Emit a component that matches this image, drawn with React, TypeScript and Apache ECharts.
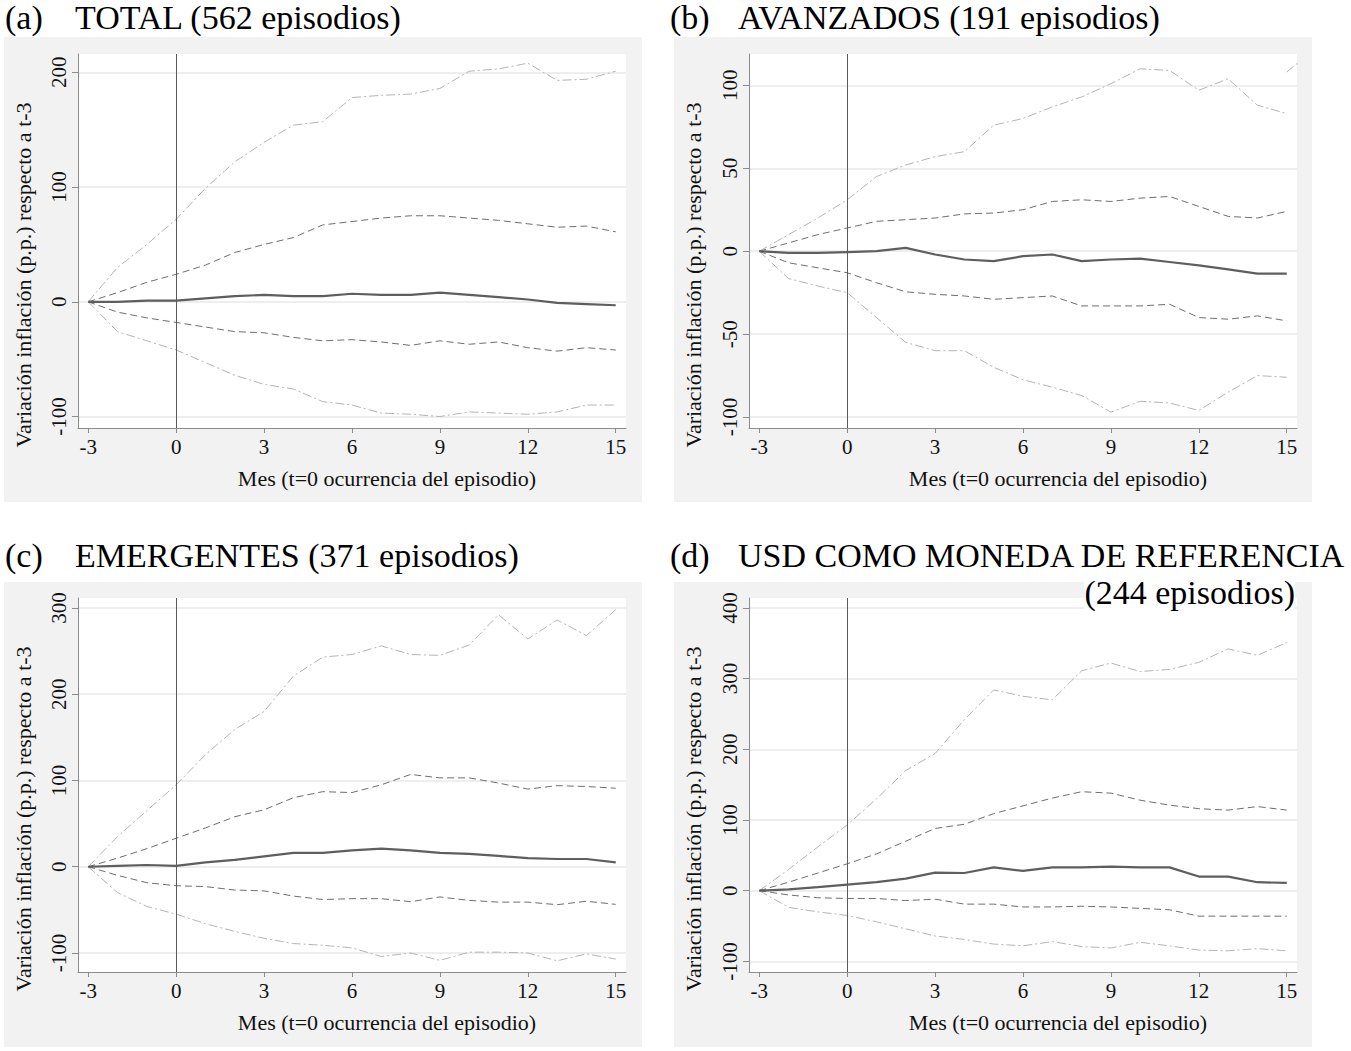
import React, { useEffect, useRef } from "react";
import * as echarts from "echarts";

// ---------- data ----------
const months = [-3, -2, -1, 0, 1, 2, 3, 4, 5, 6, 7, 8, 9, 10, 11, 12, 13, 14, 15];
const xTicks = [-3, 0, 3, 6, 9, 12, 15];

// (a) TOTAL
const totalOuterUp = [0, 30, 50, 72, 99, 122, 139, 154, 157, 178, 180, 181, 186, 201, 203, 208, 193, 194, 201];
const totalInnerUp = [0, 8, 17, 24, 32, 43, 50, 56, 67, 70, 73, 75, 75, 73, 71, 68, 65, 66, 61];
const totalMedian = [0, 0, 1, 1, 3, 5, 6, 5, 5, 7, 6, 6, 8, 6, 4, 2, -1, -2, -3];
const totalInnerLo = [0, -9, -14, -18, -22, -26, -27, -31, -34, -33, -35, -38, -34, -37, -35, -40, -43, -40, -42];
const totalOuterLo = [0, -26, -34, -42, -53, -64, -72, -76, -87, -90, -97, -98, -100, -96, -97, -98, -96, -90, -90];
const totalYTicks = [-100, 0, 100, 200];

// (b) AVANZADOS
const advOuterUp = [0, 10, 20, 31, 45, 52, 57, 60, 76, 80, 87, 93, 101, 110, 109, 97, 104, 88, 83];
const advInnerUp = [0, 5, 10, 14, 18, 19, 20, 22.5, 23, 25, 30, 31, 30, 32, 33, 27, 21, 20, 24];
const advMedian = [0, -1, -1, -0.5, 0, 2, -2, -5, -6, -3, -2, -6, -5, -4.5, -6.5, -8.5, -11, -13.5, -13.5];
const advInnerLo = [0, -7, -10, -13, -19, -24.5, -26, -27, -29, -28, -27, -33, -33, -33, -32, -40, -41, -39, -42];
const advOuterLo = [0, -16.5, -21, -25, -40, -55, -60, -60, -70, -77.5, -82, -87, -97, -90.5, -91.5, -96, -85, -75, -76];
const advStrayX = [15, 15.34, 15.95];
const advStrayY = [108, 113, 110];
const advYTicks = [-100, -50, 0, 50, 100];

// (c) EMERGENTES
const emOuterUp = [0, 35, 65, 95, 130, 159, 180, 221, 243, 246, 256, 246, 245, 257, 292, 264, 286, 268, 298];
const emInnerUp = [0, 10, 21, 33, 45, 58, 66, 80, 87, 86, 95, 107, 103, 103, 97, 90, 94, 93, 91];
const emMedian = [0, 1, 2, 1, 5, 8, 12, 16, 16, 19, 21, 19, 16, 15, 12.5, 10, 9, 9, 5];
const emInnerLo = [0, -10, -18.5, -22, -23, -27, -28, -34, -38, -37, -37, -40.5, -35, -39, -41, -41, -44, -40, -43.6];
const emOuterLo = [0, -30, -46, -55, -66, -75, -83, -89, -91, -94, -104, -100, -108.5, -99, -99, -100, -109, -101, -107];
const emYTicks = [-100, 0, 100, 200, 300];

// (d) USD
const usdOuterUp = [0, 30, 62, 93, 130, 170, 194, 242, 284, 275, 270, 311, 322, 310, 313, 323, 342, 333, 351];
const usdInnerUp = [0, 12, 25, 38, 52, 70, 88, 94, 109, 120, 131, 140, 138, 128, 121, 116, 114, 119, 114];
const usdMedian = [0, 2, 5, 8.5, 12, 17, 25.5, 25, 33, 28, 33, 33, 34, 33, 33, 20, 20, 12, 11];
const usdInnerLo = [0, -6, -10, -11, -11, -14, -12, -19, -19, -23, -23, -22, -23, -25, -27, -36, -36, -36, -36];
const usdOuterLo = [0, -23.5, -30, -35, -44, -54, -64, -69, -75.5, -78, -72, -79, -81, -73, -78, -84, -85, -82, -85];
const usdYTicks = [-100, 0, 100, 200, 300, 400];

const xAxisTitle = "Mes (t=0 ocurrencia del episodio)";
const yAxisTitle = "Variación inflación (p.p.) respecto a t-3";

const FONT = "'Liberation Serif', 'Times New Roman', serif";

const panels = [
  {
    letter: "(a)", title: "TOTAL (562 episodios)", title2: "",
    outerUp: totalOuterUp, innerUp: totalInnerUp, median: totalMedian, innerLo: totalInnerLo, outerLo: totalOuterLo,
    yTicks: totalYTicks, yMin: -110, yMax: 216,
  },
  {
    letter: "(b)", title: "AVANZADOS (191 episodios)", title2: "",
    outerUp: advOuterUp, innerUp: advInnerUp, median: advMedian, innerLo: advInnerLo, outerLo: advOuterLo,
    yTicks: advYTicks, yMin: -106.6, yMax: 118.9,
  },
  {
    letter: "(c)", title: "EMERGENTES (371 episodios)", title2: "",
    outerUp: emOuterUp, innerUp: emInnerUp, median: emMedian, innerLo: emInnerLo, outerLo: emOuterLo,
    yTicks: emYTicks, yMin: -122, yMax: 311.5,
  },
  {
    letter: "(d)", title: "USD COMO MONEDA DE REFERENCIA", title2: "(244 episodios)",
    outerUp: usdOuterUp, innerUp: usdInnerUp, median: usdMedian, innerLo: usdInnerLo, outerLo: usdOuterLo,
    yTicks: usdYTicks, yMin: -115, yMax: 414,
  },
];

// layout (pixel positions of each panel)
const layout = [
  { bgX: 4, bgY: 37, plotX: 78, plotY: 54, titleY: 17 },
  { bgX: 674, bgY: 37, plotX: 749, plotY: 54, titleY: 17 },
  { bgX: 4, bgY: 582, plotX: 78, plotY: 598, titleY: 555 },
  { bgX: 674, bgY: 582, plotX: 749, plotY: 598, titleY: 555 },
];
const BG_W = 638, BG_H = 465, PLOT_W = 548, PLOT_H = 374;

const OUTER_COLOR = "#b4b4b4";
const INNER_COLOR = "#6e6e6e";
const MEDIAN_COLOR = "#5e5e5e";

export default function App() {
  const ref = useRef<HTMLDivElement>(null);

  useEffect(() => {
    if (!ref.current) return;
    const chart = echarts.init(ref.current, undefined, { renderer: "svg" });

    const grids: any[] = [];
    const xAxes: any[] = [];
    const yAxes: any[] = [];
    const series: any[] = [];
    const graphics: any[] = [];

    panels.forEach((p, i) => {
      const L = layout[i];
      graphics.push({
        type: "rect", z: -10, silent: true,
        shape: { x: L.bgX, y: L.bgY, width: BG_W, height: BG_H },
        style: { fill: "#f2f2f2" },
      });
      grids.push({
        left: L.plotX, top: L.plotY, width: PLOT_W, height: PLOT_H,
        show: true, backgroundColor: "#ffffff", borderWidth: 0, containLabel: false,
      });
      xAxes.push({
        type: "value", gridIndex: i, min: -3.35, max: 15.35,
        axisLine: { show: true, onZero: false, lineStyle: { color: "#8c8c8c", width: 1 } },
        axisTick: { show: true, length: 5, customValues: xTicks, lineStyle: { color: "#8c8c8c" } },
        axisLabel: { customValues: xTicks, margin: 8, fontFamily: FONT, fontSize: 21, color: "#111" },
        splitLine: { show: false },
      });
      yAxes.push({
        type: "value", gridIndex: i, min: p.yMin, max: p.yMax,
        axisLine: { show: true, onZero: false, lineStyle: { color: "#8c8c8c", width: 1 } },
        axisTick: { show: true, length: 6, customValues: p.yTicks, lineStyle: { color: "#8c8c8c" } },
        axisLabel: { customValues: p.yTicks, rotate: 90, margin: 9, fontFamily: FONT, fontSize: 21, color: "#111" },
        splitLine: { show: true, lineStyle: { color: "#e9e9e9", width: 1.5 } },
      });

      const mk = (arr: number[], color: string, width: number, type: any, z: number, extra: any = {}) => ({
        type: "line", xAxisIndex: i, yAxisIndex: i, symbol: "none", z,
        data: months.map((m, k) => [m, arr[k]]),
        lineStyle: { color, width, type },
        silent: true,
        ...extra,
      });
      series.push(mk(p.outerUp, OUTER_COLOR, 1, [9, 3, 2, 3], 3));
      series.push(mk(p.outerLo, OUTER_COLOR, 1, [9, 3, 2, 3], 3));
      series.push(mk(p.innerUp, INNER_COLOR, 1, [7, 4], 4));
      series.push(mk(p.innerLo, INNER_COLOR, 1, [7, 4], 4));
      series.push(mk(p.median, MEDIAN_COLOR, 2.2, "solid", 5, {
        markLine: {
          silent: true, symbol: "none", label: { show: false },
          lineStyle: { color: "#5a5a5a", width: 1, type: "solid" },
          data: [{ xAxis: 0 }],
        },
      }));
      if (i === 1) {
        series.push({
          type: "line", xAxisIndex: i, yAxisIndex: i, symbol: "none", z: 3, clip: false, silent: true,
          data: advStrayX.map((x, k) => [x, advStrayY[k]]),
          lineStyle: { color: OUTER_COLOR, width: 1, type: [9, 3, 2, 3] },
        });
      }

      // titles
      const letterX = i % 2 === 0 ? 5 : 670;
      const titleX = i % 2 === 0 ? 75 : 738;
      graphics.push({
        type: "text", x: letterX, y: L.titleY, z: 10,
        style: { text: p.letter, font: `34px ${FONT}`, fill: "#000", verticalAlign: "middle", align: "left" },
      });
      graphics.push({
        type: "text", x: titleX, y: L.titleY, z: 10,
        style: { text: p.title, font: `34px ${FONT}`, fill: "#000", verticalAlign: "middle", align: "left" },
      });
      if (p.title2) {
        graphics.push({
          type: "text", x: 1295, y: 592, z: 10,
          style: {
            text: p.title2, font: `34px ${FONT}`, fill: "#000", verticalAlign: "middle", align: "right",
            backgroundColor: "#ffffff",
          },
        });
      }
      // axis titles
      graphics.push({
        type: "text", x: L.plotX + 309, y: L.plotY + 424, z: 10,
        style: { text: xAxisTitle, font: `22px ${FONT}`, fill: "#111", verticalAlign: "middle", align: "center" },
      });
      graphics.push({
        type: "text", x: L.bgX + 19, y: L.plotY + 221, rotation: Math.PI / 2, z: 10,
        style: { text: yAxisTitle, font: `22px ${FONT}`, fill: "#111", verticalAlign: "middle", align: "center" },
      });
    });

    chart.setOption({
      animation: false,
      backgroundColor: "#ffffff",
      grid: grids,
      xAxis: xAxes,
      yAxis: yAxes,
      series,
      graphic: graphics,
    });

    return () => chart.dispose();
  }, []);

  return (
    <div
      ref={ref}
      style={{ position: "absolute", left: 0, top: 0, width: 1351, height: 1051 }}
    />
  );
}
